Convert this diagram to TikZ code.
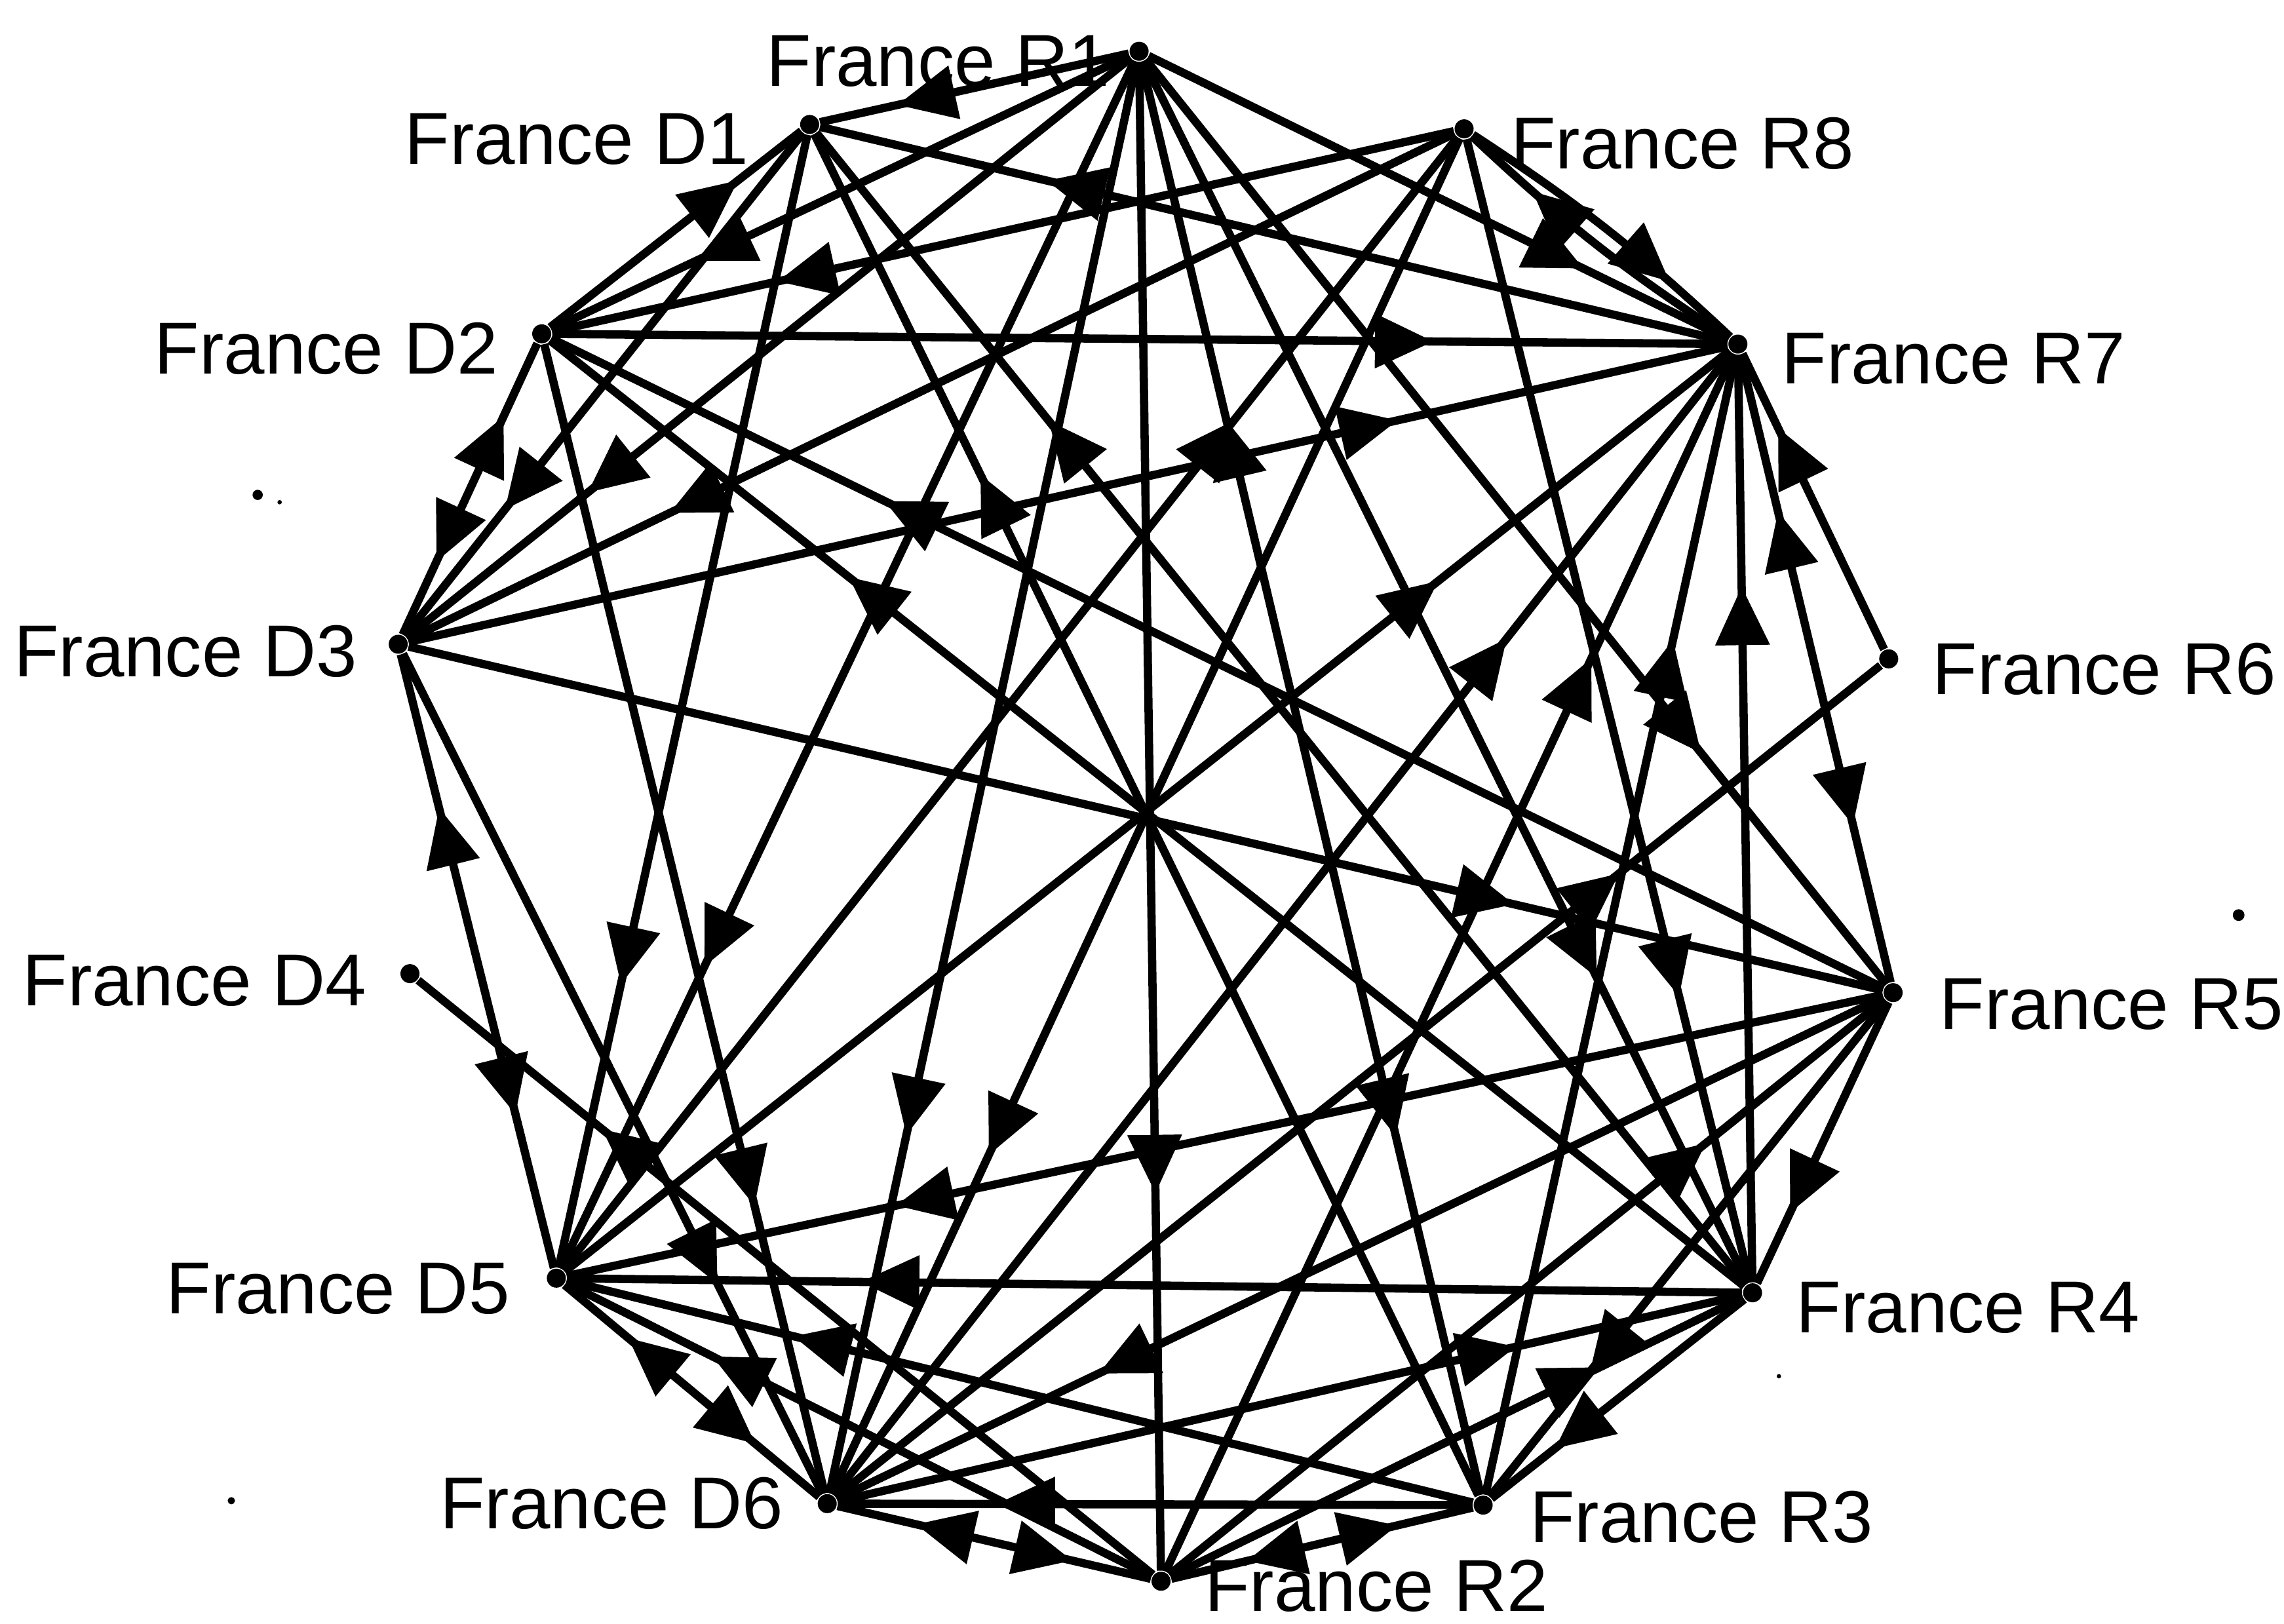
\documentclass[tikz,border=0pt]{standalone}
\usepackage{fontspec}
\setmainfont{Liberation Sans}
\usetikzlibrary{positioning,arrows.meta,decorations.markings}

\begin{document}
\begin{tikzpicture}[x=0.1mm, y=-0.1mm,
    dot/.style={circle, fill, inner sep=0pt, minimum size=1.3mm},
    lbl/.style={inner sep=0pt, font=\fontsize{14.3}{17}\selectfont},
    onearr/.style={line width=1.6pt, postaction={decorate},
      decoration={markings, mark=at position 0.75 with {\arrow{Triangle[length=4mm,width=3.6mm]}}}},
    twoarr/.style={line width=1.6pt, postaction={decorate},
      decoration={markings,
        mark=at position 0.25 with {\arrowreversed{Triangle[length=4mm,width=3.6mm]}},
        mark=at position 0.75 with {\arrow{Triangle[length=4mm,width=3.6mm]}}}}]%Edit size here
  \useasboundingbox (0,0) rectangle (1560,1109);

  % countries on the ring
  \node[dot] (R1) at (778,35) {};
  \node[dot] (D1) at (553,85) {};
  \node[dot] (R8) at (1000,88) {};
  \node[dot] (D2) at (370,228) {};
  \node[dot] (R7) at (1187,235) {};
  \node[dot] (D3) at (272,440) {};
  \node[dot] (R6) at (1290,450) {};
  \node[dot] (D4) at (280,665) {};
  \node[dot] (R5) at (1293,678) {};
  \node[dot] (D5) at (380,873) {};
  \node[dot] (R4) at (1197,883) {};
  \node[dot] (D6) at (565,1027) {};
  \node[dot] (R3) at (1013,1028) {};
  \node[dot] (R2) at (793,1080) {};

  \node[lbl, left=1.2mm of R1, yshift=-0.7mm] (tR1) {France R1};
  \node[lbl, left=3.4mm of D1, yshift=-1mm] (tD1) {France D1};
  \node[lbl, right=2.4mm of R8, yshift=-1mm] (tR8) {France R8};
  \node[lbl, left=2.2mm of D2, yshift=-1mm] (tD2) {France D2};
  \node[lbl, right=2.2mm of R7, yshift=-1mm] (tR7) {France R7};
  \node[lbl, left=2mm of D3, yshift=-0.5mm] (tD3) {France D3};
  \node[lbl, right=2.2mm of R6, yshift=-0.7mm] (tR6) {France R6};
  \node[lbl, left=2.2mm of D4, yshift=-0.5mm] (tD4) {France D4};
  \node[lbl, right=2.4mm of R5, yshift=-0.8mm] (tR5) {France R5};
  \node[lbl, left=2.4mm of D5, yshift=-0.7mm] (tD5) {France D5};
  \node[lbl, right=2.2mm of R4, yshift=-1mm] (tR4) {France R4};
  \node[lbl, left=2.2mm of D6] (tD6) {France D6};
  \node[lbl, right=2.4mm of R3, yshift=-0.8mm] (tR3) {France R3};
  \node[lbl, right=2.2mm of R2, yshift=-0.3mm] (tR2) {France R2};

  % one-way links
  \foreach \a/\b in {R1/D1, R1/D2, R1/D3, R1/D5, R1/D6, R1/R2, R1/R4, R1/R5, R1/R7,
      D2/D1, R7/D1, R3/D1, D1/D5, R4/D1, D1/D3,
      D2/R7, R5/D2, R4/D2, D2/D6, R8/D2,
      D3/R7, D3/R5, R8/D3, D3/D6, R2/D4,
      D5/R7, R4/D5, R5/D5, R3/D5, R2/D5, D5/R8,
      R3/D6, D6/R4, R5/D6, D6/R6, D6/R7, R8/D6,
      R2/R7, R2/R5, R2/R4, R3/R7, R5/R3, R4/R3, R5/R4, R4/R7, R6/R7, R8/R4}
    \draw[onearr] (\a) -- (\b);

  % two-way links
  \foreach \a/\b in {R1/R3, D2/D3, D3/D5, D5/D6, D6/R2, R2/R3, R5/R7}
    \draw[twoarr] (\a) -- (\b);

  \draw[onearr] (R8) to[bend left=5] (R7);
  \draw[onearr] (R7) to[bend left=5] (R8);

  % specks
  \fill (176,338) circle (3.5);
  \fill (191,343) circle (1.5);
  \fill (1529,625) circle (4);
  \fill (158,1025) circle (2.5);
  \fill (1215,940) circle (1.5);
\end{tikzpicture}
\end{document}
